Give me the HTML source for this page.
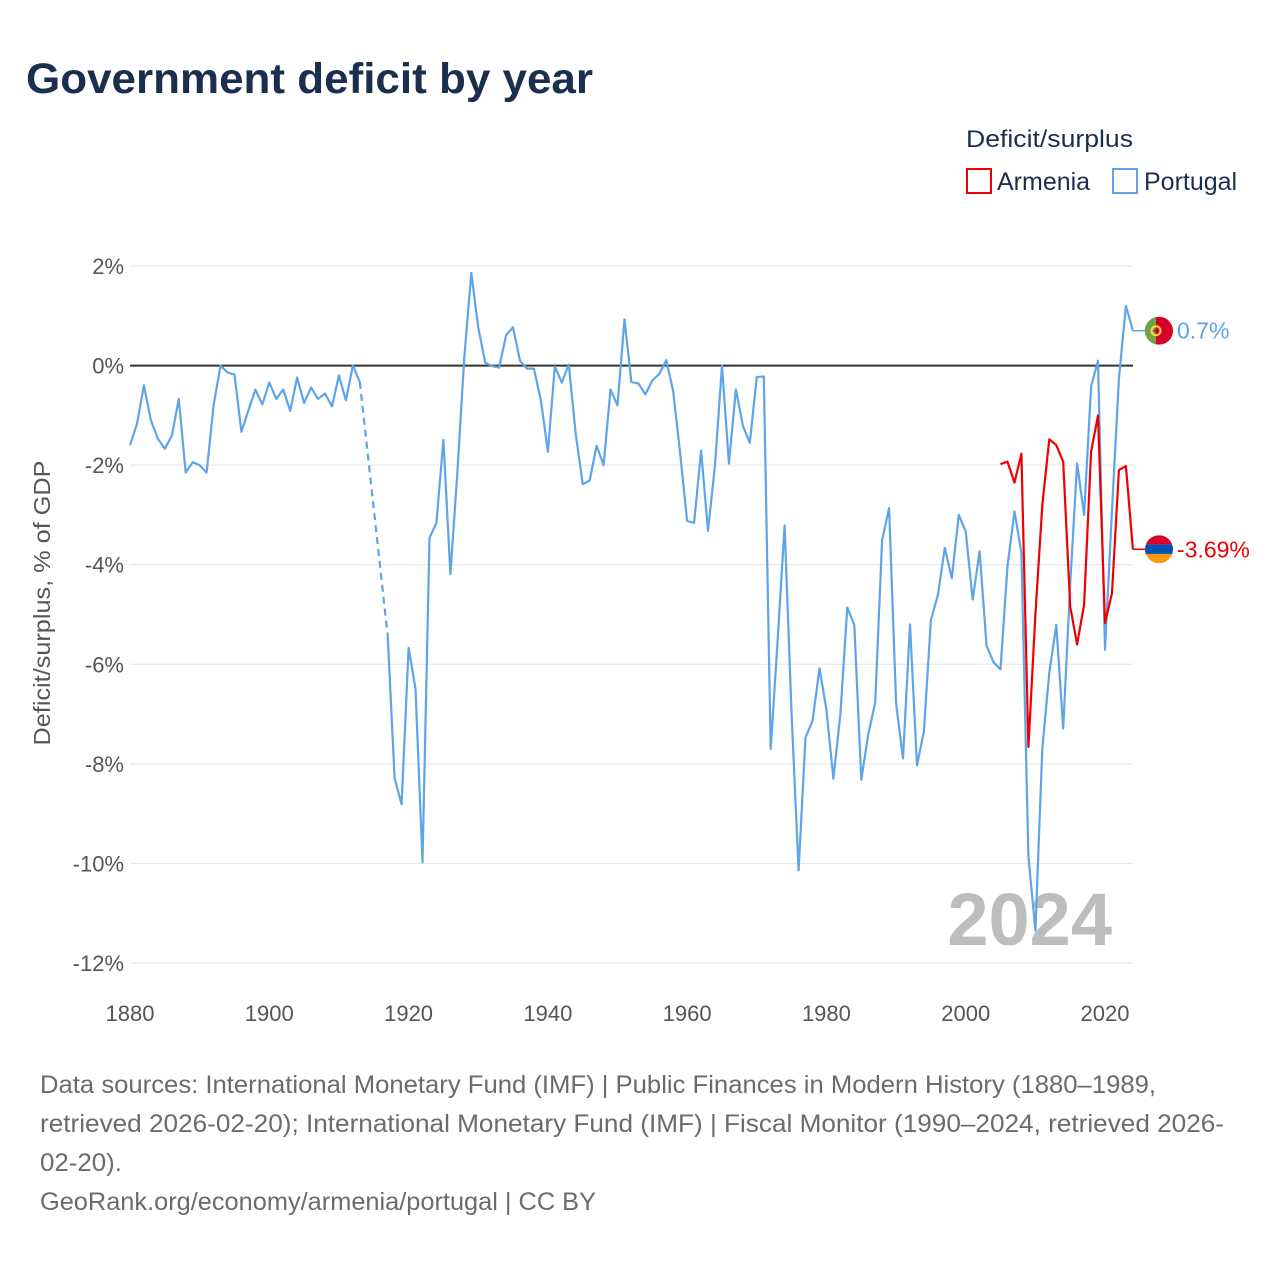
<!DOCTYPE html>
<html><head><meta charset="utf-8">
<style>
body{margin:0;background:#fff;font-family:"Liberation Sans",sans-serif;}
#wrap{position:relative;width:1280px;height:1280px;overflow:hidden;}
</style></head>
<body>
<div id="wrap">
<svg id="chart" width="1280" height="1280" xmlns="http://www.w3.org/2000/svg">
<text x="26" y="93" font-size="43" font-weight="bold" fill="#1a2f4e" textLength="567" lengthAdjust="spacingAndGlyphs">Government deficit by year</text>
<text x="966" y="147" font-size="24" fill="#1a2f4e" textLength="167" lengthAdjust="spacingAndGlyphs">Deficit/surplus</text>
<g>
<rect x="967" y="169" width="24" height="24" fill="none" stroke="#ee0000" stroke-width="2"/>
<text x="997" y="190" font-size="25" fill="#1a2f4e">Armenia</text>
</g>
<g>
<rect x="1113" y="169" width="24" height="24" fill="none" stroke="#5da5e8" stroke-width="2"/>
<text x="1144" y="190" font-size="25" fill="#1a2f4e">Portugal</text>
</g>
<g id="grid"></g>
<g id="axes"></g>
<text x="0" y="0" transform="translate(50,603) rotate(-90)" text-anchor="middle" font-size="23" fill="#555" textLength="285" lengthAdjust="spacingAndGlyphs">Deficit/surplus, % of GDP</text>
<text x="1112" y="945" text-anchor="end" font-size="74" font-weight="bold" fill="#bdbdbd">2024</text>
<g id="series"></g>
<g font-size="25" fill="#6b6b6b">
<text x="40" y="1093" textLength="1116" lengthAdjust="spacingAndGlyphs">Data sources: International Monetary Fund (IMF) | Public Finances in Modern History (1880–1989,</text>
<text x="40" y="1132" textLength="1184" lengthAdjust="spacingAndGlyphs">retrieved 2026-02-20); International Monetary Fund (IMF) | Fiscal Monitor (1990–2024, retrieved 2026-</text>
<text x="40" y="1171" textLength="82" lengthAdjust="spacingAndGlyphs">02-20).</text>
<text x="40" y="1210" textLength="556" lengthAdjust="spacingAndGlyphs">GeoRank.org/economy/armenia/portugal | CC BY</text>
</g>
</svg>
</div>
<script>
const yTicks=[2,0,-2,-4,-6,-8,-10,-12];
const yTickLabels=["2%","0%","-2%","-4%","-6%","-8%","-10%","-12%"];
const xTicks=[1880,1900,1920,1940,1960,1980,2000,2020];
const portugalYears1=[1880,1881,1882,1883,1884,1885,1886,1887,1888,1889,1890,1891,1892,1893,1894,1895,1896,1897,1898,1899,1900,1901,1902,1903,1904,1905,1906,1907,1908,1909,1910,1911,1912,1913];
const portugalValues1=[-1.6,-1.17,-0.4,-1.1,-1.47,-1.67,-1.41,-0.67,-2.15,-1.94,-2.0,-2.15,-0.8,0,-0.14,-0.18,-1.33,-0.9,-0.48,-0.78,-0.34,-0.67,-0.48,-0.91,-0.24,-0.75,-0.44,-0.67,-0.56,-0.82,-0.2,-0.7,0,-0.33];
const portugalYears2=[1917,1918,1919,1920,1921,1922,1923,1924,1925,1926,1927,1928,1929,1930,1931,1932,1933,1934,1935,1936,1937,1938,1939,1940,1941,1942,1943,1944,1945,1946,1947,1948,1949,1950,1951,1952,1953,1954,1955,1956,1957,1958,1959,1960,1961,1962,1963,1964,1965,1966,1967,1968,1969,1970,1971,1972,1973,1974,1975,1976,1977,1978,1979,1980,1981,1982,1983,1984,1985,1986,1987,1988,1989,1990,1991,1992,1993,1994,1995,1996,1997,1998,1999,2000,2001,2002,2003,2004,2005,2006,2007,2008,2009,2010,2011,2012,2013,2014,2015,2016,2017,2018,2019,2020,2021,2022,2023,2024];
const portugalValues2=[-5.42,-8.29,-8.81,-5.67,-6.49,-9.98,-3.46,-3.16,-1.49,-4.19,-2.17,0.17,1.86,0.77,0.06,-0.01,-0.04,0.61,0.77,0.1,-0.06,-0.06,-0.7,-1.73,-0.02,-0.34,0.02,-1.37,-2.38,-2.31,-1.61,-2.0,-0.48,-0.8,0.93,-0.33,-0.36,-0.58,-0.3,-0.17,0.11,-0.52,-1.77,-3.12,-3.16,-1.71,-3.32,-2.0,0,-1.97,-0.48,-1.21,-1.55,-0.23,-0.22,-7.7,-5.5,-3.21,-7.0,-10.14,-7.47,-7.14,-6.08,-6.91,-8.3,-7.0,-4.86,-5.21,-8.32,-7.41,-6.77,-3.51,-2.86,-6.79,-7.89,-5.2,-8.03,-7.35,-5.11,-4.61,-3.66,-4.27,-3.0,-3.33,-4.7,-3.73,-5.63,-5.96,-6.1,-4.03,-2.93,-3.76,-9.86,-11.35,-7.7,-6.17,-5.21,-7.29,-4.4,-1.96,-3.0,-0.42,0.1,-5.71,-2.9,-0.27,1.2,0.7];
const armeniaYears=[2005,2006,2007,2008,2009,2010,2011,2012,2013,2014,2015,2016,2017,2018,2019,2020,2021,2022,2023,2024];
const armeniaValues=[-1.98,-1.93,-2.35,-1.77,-7.66,-5.0,-2.8,-1.48,-1.6,-1.93,-4.84,-5.6,-4.8,-1.73,-1.0,-5.17,-4.57,-2.1,-2.02,-3.69];
const portugalLabel="0.7%";
const armeniaLabel="-3.69%";

const NS="http://www.w3.org/2000/svg";
const X0=130,X1=1105,Y0=266,Y1=963;
function xs(yr){return X0+(yr-1880)*(X1-X0)/140;}
function ys(v){return Y0+(2-v)*(Y1-Y0)/14;}
function mk(tag,attrs,parent){const e=document.createElementNS(NS,tag);for(const k in attrs)e.setAttribute(k,attrs[k]);parent.appendChild(e);return e;}
const grid=document.getElementById('grid'),axes=document.getElementById('axes'),series=document.getElementById('series');
yTicks.forEach((t,i)=>{
  const l=mk('line',{x1:130,x2:1133,y1:ys(t),y2:ys(t),stroke:t===0?'#333':'#e3e3e3','stroke-width':t===0?2:1},grid);
  
  
  const tx=mk('text',{x:124,y:ys(t)+8,'text-anchor':'end','font-size':22,fill:'#555'},axes);
  tx.textContent=yTickLabels[i];
  
  
});
xTicks.forEach(t=>{
  const tx=mk('text',{x:xs(t),y:1021,'text-anchor':'middle','font-size':22,fill:'#555'},axes);
  tx.textContent=String(t);
  
  
});
function pts(yrs,vals){return yrs.map((y,i)=>xs(y).toFixed(1)+','+ys(vals[i]).toFixed(1)).join(' ');}
const blue='#5da5e8',red='#ee0000';
const p1=mk('polyline',{points:pts(portugalYears1,portugalValues1),fill:'none',stroke:blue,'stroke-width':2.2,'stroke-linejoin':'round'},series);


const lastY=portugalYears1[portugalYears1.length-1],lastV=portugalValues1[portugalValues1.length-1];
const gap=mk('line',{x1:xs(lastY),y1:ys(lastV),x2:xs(portugalYears2[0]),y2:ys(portugalValues2[0]),stroke:blue,'stroke-width':2.2,'stroke-dasharray':'7,5'},series);


const p2=mk('polyline',{points:pts(portugalYears2,portugalValues2),fill:'none',stroke:blue,'stroke-width':2.2,'stroke-linejoin':'round'},series);


const a=mk('polyline',{points:pts(armeniaYears,armeniaValues),fill:'none',stroke:red,'stroke-width':2.2,'stroke-linejoin':'round'},series);


const pv=portugalValues2[portugalValues2.length-1],av=armeniaValues[armeniaValues.length-1];
const pe=mk('line',{x1:xs(2024),y1:ys(pv),x2:1145,y2:ys(pv),stroke:blue,'stroke-width':1.5},series);


const ae=mk('line',{x1:xs(2024),y1:ys(av),x2:1145,y2:ys(av),stroke:red,'stroke-width':1.5},series);


const fp=mk('g',{},series);


const cx=1159,cyP=ys(pv),cyA=ys(av),r=14;
mk('defs',{},fp).innerHTML='<clipPath id="cp"><circle cx="'+cx+'" cy="'+cyP+'" r="'+r+'"/></clipPath><clipPath id="ca"><circle cx="'+cx+'" cy="'+cyA+'" r="'+r+'"/></clipPath>';
mk('rect',{x:cx-r,y:cyP-r,width:2*r,height:2*r,fill:'#d80027','clip-path':'url(#cp)'},fp);
mk('rect',{x:cx-r,y:cyP-r,width:11,height:2*r,fill:'#6da544','clip-path':'url(#cp)'},fp);
mk('circle',{cx:cx-3,cy:cyP,r:4.5,fill:'none',stroke:'#ffda44','stroke-width':2},fp);
mk('circle',{cx:cx-3,cy:cyP,r:1.8,fill:'#d80027'},fp);
const fa=mk('g',{},series);


mk('rect',{x:cx-r,y:cyA-r,width:2*r,height:2*r/3,fill:'#d80027','clip-path':'url(#ca)'},fa);
mk('rect',{x:cx-r,y:cyA-r+2*r/3,width:2*r,height:2*r/3,fill:'#0052b4','clip-path':'url(#ca)'},fa);
mk('rect',{x:cx-r,y:cyA-r+4*r/3,width:2*r,height:2*r/3,fill:'#ff9811','clip-path':'url(#ca)'},fa);
const lp=mk('text',{x:1177,y:cyP+8,'font-size':23,fill:blue},series);
lp.textContent=portugalLabel;


const la=mk('text',{x:1177,y:cyA+8,'font-size':23,fill:red},series);
la.textContent=armeniaLabel;


</script>
</body></html>
